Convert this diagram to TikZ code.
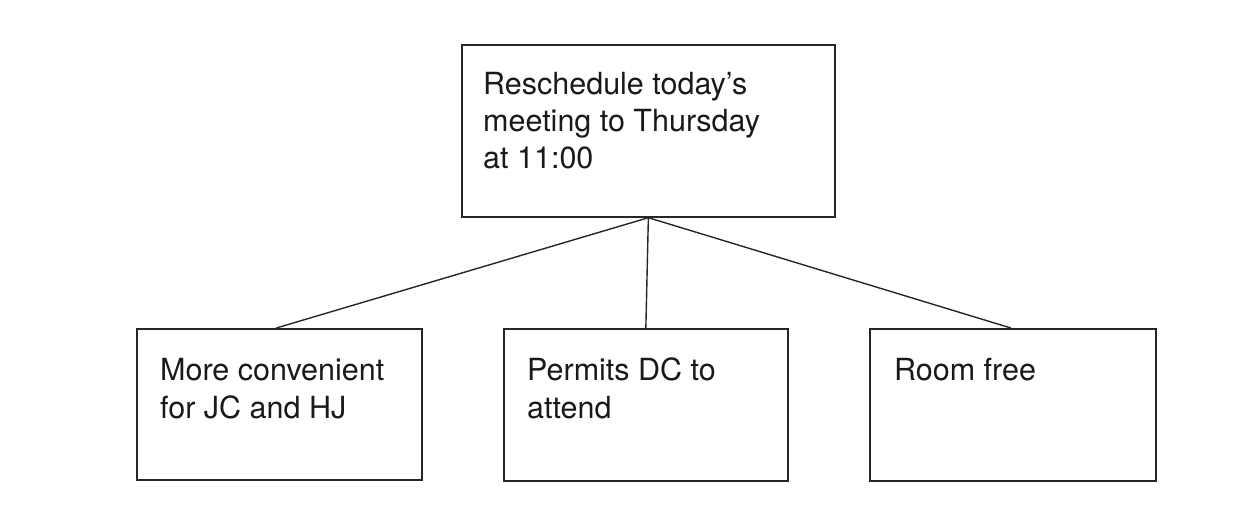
\documentclass[tikz,border=0pt]{standalone}
\usepackage{fontspec}
\setmainfont{TeX Gyre Heros}
\begin{document}
\begin{tikzpicture}[x=1pt,y=1pt,
  boxst/.style={draw=black!85, line width=1.7pt, inner sep=0pt, anchor=north west},
  txt/.style={inner sep=0pt, anchor=base west, align=left, font=\fontsize{30.5}{37}\selectfont, text=black!90},
  link/.style={draw=black!85, line width=1.4pt}]
\useasboundingbox (0,0) rectangle (1238,522);
\node[boxst, minimum width=373pt, minimum height=172pt] (top) at (461,478) {};
\node[boxst, minimum width=285pt, minimum height=151pt] (left) at (136,194) {};
\node[boxst, minimum width=284pt, minimum height=152pt] (mid) at (503,194) {};
\node[boxst, minimum width=286pt, minimum height=152pt] (right) at (869,194) {};
\node[txt] (ttop) at (483,353) {Reschedule today's\\meeting to Thursday\\at 11:00};
\node[txt] (tleft) at (160,104) {More convenient\\for JC and HJ};
\node[txt] (tmid) at (527,104) {Permits DC to\\attend};
\node[txt] (tright) at (894,141) {Room free};
\draw[link] (top.south) -- ([xshift=-3pt]left.north);
\draw[link] (top.south) -- (mid.north);
\draw[link] (top.south) -- ([xshift=-2pt]right.north);
\end{tikzpicture}
\end{document}
